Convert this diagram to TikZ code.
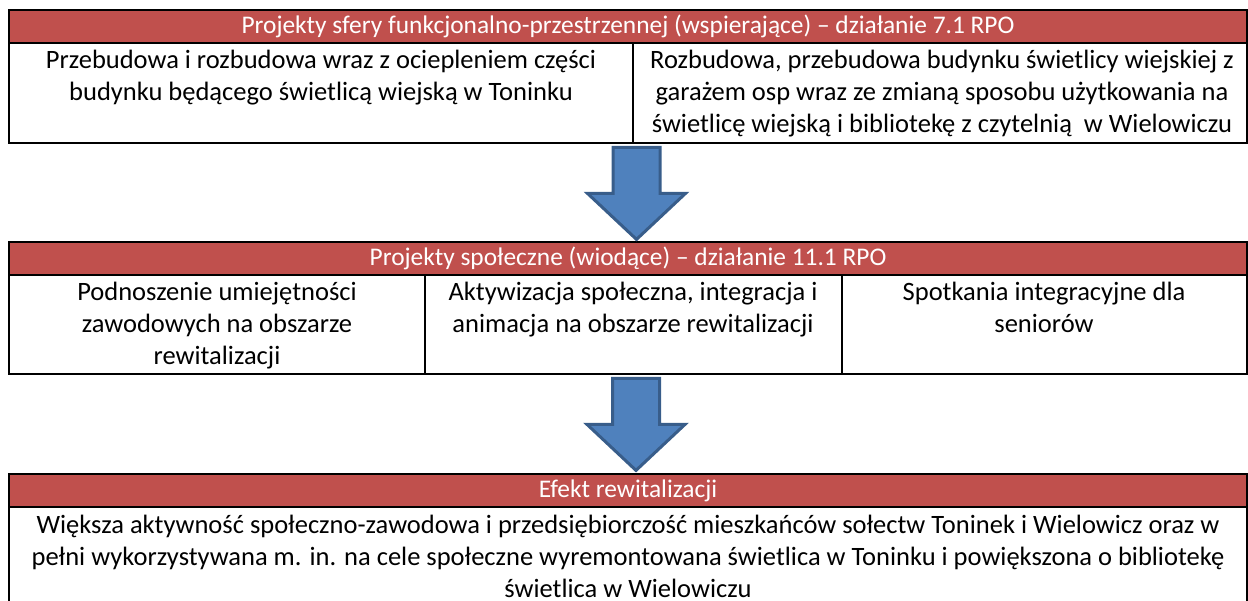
\documentclass[tikz,border=0pt]{standalone}
\usepackage{fontspec}
\setmainfont{Carlito}
\usetikzlibrary{fit}
\definecolor{hdr}{HTML}{C0504D}
\definecolor{arrfill}{HTML}{4F81BD}
\definecolor{arrline}{HTML}{385D8A}
\begin{document}
\begin{tikzpicture}[x=0.5pt,y=-0.5pt,
  hdrcell/.style={draw=black,line width=1pt,fill=hdr,inner sep=0pt},
  hdrtext/.style={text=white,inner sep=0pt,font=\fontsize{12.7}{15.5}\selectfont},
  bodycell/.style={draw=black,line width=1pt,inner sep=0pt},
  bodytext/.style={anchor=north,align=center,inner sep=0pt,font=\fontsize{13.25}{16}\selectfont},
  blockarrow/.style={fill=arrfill,draw=arrline,line width=1.5pt,line join=miter}]
\useasboundingbox (0,0) rectangle (1248,600);
\clip (0,0) rectangle (1248,600);
% table 1
\node[bodycell, fit={(9,43)(633,143)}] (c11) {};
\node[bodycell, fit={(633,43)(1247,143)}] (c12) {};
\node[hdrcell, fit={(9,10)(1247,43)}] (h1) {};
\node[hdrtext] (ht1) at (h1.center) {Projekty sfery funkcjonalno-przestrzennej (wspierające) – działanie 7.1 RPO};
\node[bodytext] (t11) at (321,50) {Przebudowa i rozbudowa wraz z ociepleniem części\\budynku będącego świetlicą wiejską w Toninku};
\node[bodytext] (t12) at (942,50) {Rozbudowa, przebudowa budynku świetlicy wiejskiej z\\garażem osp wraz ze zmianą sposobu użytkowania na\\świetlicę wiejską i bibliotekę z czytelnią~ w Wielowiczu};
% table 2
\node[bodycell, fit={(9,275)(425,374)}] (c21) {};
\node[bodycell, fit={(425,275)(842,374)}] (c22) {};
\node[bodycell, fit={(842,275)(1247,374)}] (c23) {};
\node[hdrcell, fit={(9,242)(1247,275)}] (h2) {};
\node[hdrtext] (ht2) at (h2.center) {Projekty społeczne (wiodące) – działanie 11.1 RPO};
\node[bodytext] (t21) at (217,282) {Podnoszenie umiejętności\\zawodowych na obszarze\\rewitalizacji};
\node[bodytext] (t22) at (633,282) {Aktywizacja społeczna, integracja i\\animacja na obszarze rewitalizacji};
\node[bodytext] (t23) at (1044,282) {Spotkania integracyjne dla\\seniorów};
% table 3
\node[bodycell, fit={(9,507)(1247,612)}] (c31) {};
\node[hdrcell, fit={(9,474)(1247,507)}] (h3) {};
\node[hdrtext] (ht3) at (h3.center) {Efekt rewitalizacji};
\node[bodytext] (t31) at (628,515) {Większa aktywność społeczno-zawodowa i przedsiębiorczość mieszkańców sołectw Toninek i Wielowicz oraz w\\pełni wykorzystywana m. in. na cele społeczne wyremontowana świetlica w Toninku i powiększona o bibliotekę\\świetlica w Wielowiczu};
% arrows
\coordinate (a1) at ([xshift=1.5pt,yshift=-1.7pt]c11.south east);
\draw[blockarrow] (a1) ++(-24,0) -- ++(47,0) -- ++(0,46) -- ++(25.5,0) -- ++(-49,46) -- ++(-49,-46) -- ++(25.5,0) -- cycle;
\coordinate (a2) at ([xshift=1.5pt,yshift=-1.7pt]c22.south);
\draw[blockarrow] (a2) ++(-24,0) -- ++(47,0) -- ++(0,46) -- ++(25.5,0) -- ++(-49,46) -- ++(-49,-46) -- ++(25.5,0) -- cycle;
\end{tikzpicture}
\end{document}
